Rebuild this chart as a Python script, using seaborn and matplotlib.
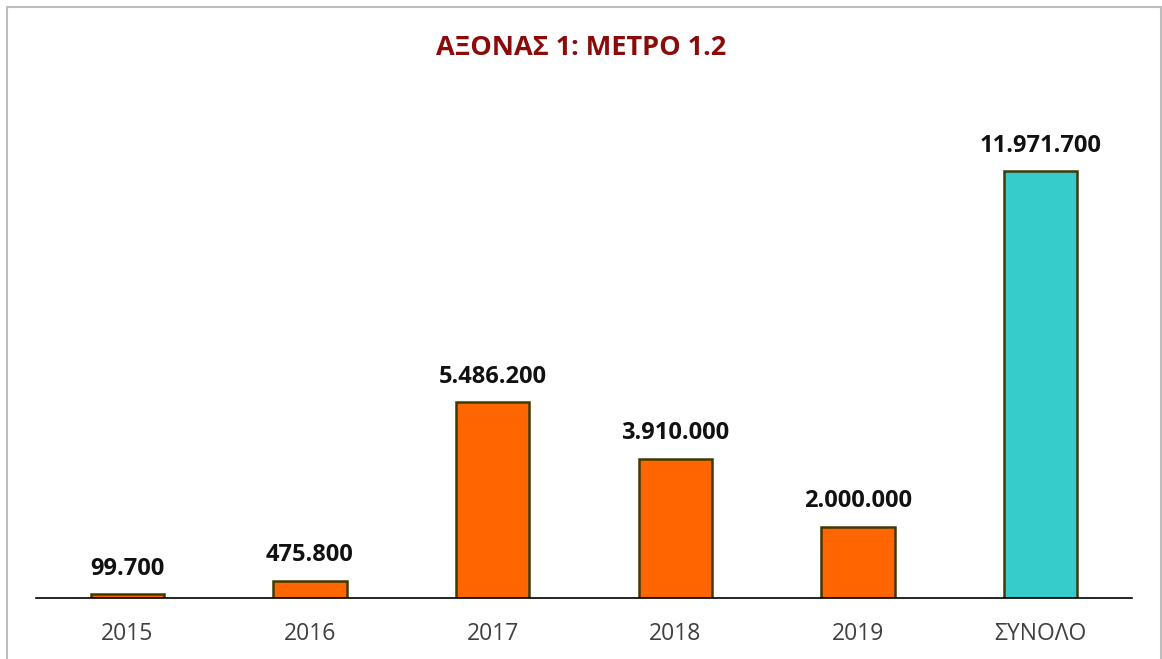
import matplotlib
matplotlib.use("Agg")
import matplotlib.pyplot as plt
import seaborn as sns
import pandas as pd
from matplotlib.patches import Rectangle

categories = ["2015", "2016", "2017", "2018", "2019", "ΣΥΝΟΛΟ"]
values = [99700, 475800, 5486200, 3910000, 2000000, 11971700]
labels = ["99.700", "475.800", "5.486.200", "3.910.000", "2.000.000", "11.971.700"]
bar_colors = ["#FF6600", "#FF6600", "#FF6600", "#FF6600", "#FF6600", "#36CCCC"]

sns.set_theme(style="white")
plt.rcParams['font.family'] = ['Open Sans', 'DejaVu Sans']

df = pd.DataFrame({"cat": categories, "val": values})

fig = plt.figure(figsize=(11.62, 6.59), dpi=100)
ax = fig.add_axes([36/1162, 1 - 598/659, (1132 - 36)/1162, (598 - 99)/659])

sns.barplot(data=df, x="cat", y="val", hue="cat", palette=bar_colors, legend=False,
            width=0.40, edgecolor="#3F3A05", linewidth=1.8, ax=ax, saturation=1)

ax.set_xlim(-0.5, 5.5)
ax.set_ylim(0, 14000000)
for i, (v, t) in enumerate(zip(values, labels)):
    ax.text(i, v + 380000, t, ha="center", va="bottom", fontsize=17,
            fontweight="bold", color="#111111")

ax.set_xlabel("")
ax.set_ylabel("")
ax.set_yticks([])
ax.tick_params(axis="x", length=0, pad=17, labelsize=16.5, labelcolor="#404040")
for s in ["top", "left", "right"]:
    ax.spines[s].set_visible(False)
ax.spines["bottom"].set_color("#000000")
ax.spines["bottom"].set_linewidth(1.2)

fig.text(0.5, 1 - 48/659, "ΑΞΟΝΑΣ 1: ΜΕΤΡΟ 1.2", ha="center", va="center",
         fontsize=19.5, fontweight="bold", color="#8B0A0A")

fig.patches.append(Rectangle((7/1162, -0.01), (1161 - 7)/1162, 1 - 7/659 + 0.01,
                             transform=fig.transFigure, fill=False,
                             edgecolor="#BDBDBD", linewidth=1.5))

fig.savefig("out.png", dpi=100)
